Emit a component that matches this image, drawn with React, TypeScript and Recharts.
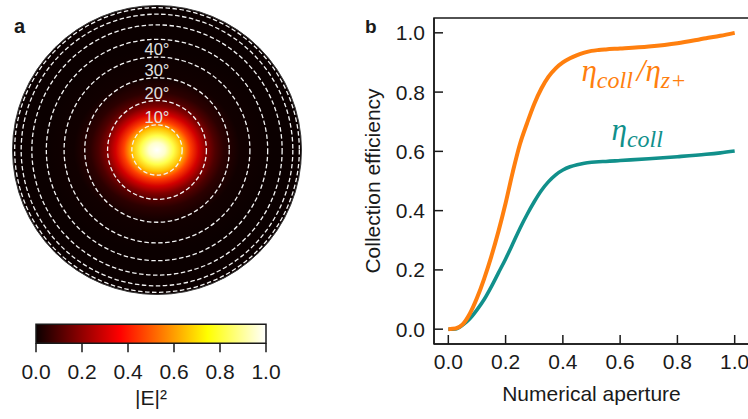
import React from 'react'
import {
  LineChart,
  Line,
  XAxis,
  YAxis,
  ReferenceArea,
  ReferenceDot,
  ScatterChart,
  Scatter,
  BarChart,
  Bar,
} from 'recharts'

// panel b: collection efficiency vs numerical aperture
const apertures = [
  0, 0.025, 0.05, 0.075, 0.1, 0.125, 0.15, 0.175, 0.2, 0.225, 0.25, 0.275, 0.3, 0.325, 0.35, 0.375,
  0.4, 0.425, 0.45, 0.475, 0.5, 0.525, 0.55, 0.6, 0.7, 0.8, 0.9, 0.95, 1.0,
]
const ratioEff = [
  0, 0.002, 0.016, 0.052, 0.105, 0.17, 0.245, 0.33, 0.425, 0.53, 0.624, 0.695, 0.76, 0.812, 0.852, 0.88,
  0.9, 0.914, 0.925, 0.933, 0.939, 0.942, 0.944, 0.947, 0.954, 0.965, 0.982, 0.99, 1.0,
]
const collEff = [
  0, 0.001, 0.014, 0.035, 0.065, 0.1, 0.143, 0.19, 0.237, 0.288, 0.34, 0.387, 0.43, 0.468, 0.498, 0.521,
  0.537, 0.548, 0.555, 0.56, 0.563, 0.565, 0.566, 0.569, 0.575, 0.582, 0.59, 0.595, 0.601,
]
const effTicks = [0, 0.2, 0.4, 0.6, 0.8, 1.0]

// panel a: angle rings (NA = sin of angle) and the spot profile
const ringAngles = [10, 20, 30, 40, 50, 60, 70, 80]
const ringNA = [0.174, 0.342, 0.5, 0.643, 0.766, 0.866, 0.94, 0.985]
const labelledRings = 4
const spotRadius = [0, 0.05, 0.1, 0.15, 0.2, 0.25, 0.3, 0.35, 0.4, 0.5, 0.7]
const spotIntensity = [1, 0.95, 0.82, 0.65, 0.46, 0.3, 0.18, 0.1, 0.05, 0.01, 0]
const colorbarTicks = [0, 0.2, 0.4, 0.6, 0.8, 1.0]
const colorbarStops = [0, 0.1, 0.2, 0.3, 0.365, 0.45, 0.55, 0.65, 0.746, 0.85, 0.95, 1]

const ORANGE = '#ff7f0e'
const TEAL = '#11908b'
const INK = '#1a1a1a'
const SANS = '"Liberation Sans", Arial, sans-serif'
const SERIF = '"Liberation Serif", "Times New Roman", serif'
const DISK_R = 144.5

// matplotlib "hot"
function hot(v: number) {
  const r = v < 0.365 ? 0.0416 + (0.9584 * v) / 0.365 : 1
  const g = v < 0.365 ? 0 : v < 0.746 ? (v - 0.365) / 0.381 : 1
  const b = v < 0.746 ? 0 : (v - 0.746) / 0.254
  const c = (x: number) => Math.round(Math.min(1, Math.max(0, x)) * 255)
  return `rgb(${c(r)},${c(g)},${c(b)})`
}

const effData = apertures.map((na, i) => ({ na, ratio: ratioEff[i], coll: collEff[i] }))
const diskData = [{ x: 0, y: 0 }]
const ringData = ringNA.map((na, i) => ({ x: 0, y: 0, na, angle: ringAngles[i] }))
const colorbarData = [{ name: 'E', v: 1 }]

function MathLabel({ x, y, color, sub1, sub2 }: { x: number; y: number; color: string; sub1: string; sub2?: string }) {
  return (
    <text x={x} y={y} fill={color} fontFamily={SERIF} fontStyle="italic">
      <tspan fontSize={31}>η</tspan>
      <tspan fontSize={24} dy={7}>{sub1}</tspan>
      {sub2 && (
        <>
          <tspan fontSize={31} dy={-7} dx={4}>/η</tspan>
          <tspan fontSize={24} dy={7}>{sub2}</tspan>
        </>
      )}
    </text>
  )
}

function DiskPanel() {
  return (
    <ScatterChart width={320} height={300} margin={{ top: 5.5, left: 12.5, right: 18.5, bottom: 5.5 }}>
      <defs>
        <radialGradient
          id="spotGlow"
          cx="0.5"
          cy="0.5"
          r="0.5"
          gradientTransform="translate(0.5 0.5) scale(1.15 1) translate(-0.5 -0.5)"
        >
          {spotRadius.map((r, i) => (
            <stop key={r} offset={r} stopColor={hot(spotIntensity[i])} />
          ))}
        </radialGradient>
      </defs>
      <XAxis dataKey="x" type="number" domain={[-1, 1]} hide />
      <YAxis dataKey="y" type="number" domain={[-1, 1]} hide />
      <Scatter
        data={diskData}
        isAnimationActive={false}
        shape={(p: any) => (
          <circle cx={p.cx} cy={p.cy} r={DISK_R} fill="url(#spotGlow)" stroke="#3a3a3a" strokeWidth={1} />
        )}
      />
      <Scatter
        data={ringData}
        isAnimationActive={false}
        shape={(p: any) => (
          <circle
            cx={p.cx}
            cy={p.cy}
            r={p.payload.na * DISK_R}
            fill="none"
            stroke="#f4f4f4"
            strokeWidth={1.3}
            strokeDasharray="4.5 2.5"
          />
        )}
      />
      {ringData.slice(0, labelledRings).map((d) => (
        <ReferenceDot
          key={d.angle}
          x={0}
          y={d.na}
          r={0.01}
          fill="none"
          stroke="none"
          label={{ value: `${d.angle}°`, position: 'top', offset: 2, fill: '#e0e0e0', fontSize: 16.5, fontFamily: SANS }}
        />
      ))}
    </ScatterChart>
  )
}

function ColorbarPanel() {
  return (
    <BarChart
      width={320}
      height={119}
      layout="vertical"
      data={colorbarData}
      barCategoryGap={0}
      margin={{ top: 24.3, left: 36, right: 54, bottom: 0 }}
    >
      <defs>
        <linearGradient id="hotBar" x1="0" y1="0" x2="1" y2="0">
          {colorbarStops.map((v) => (
            <stop key={v} offset={v} stopColor={hot(v)} />
          ))}
        </linearGradient>
      </defs>
      <XAxis
        type="number"
        domain={[0, 1]}
        ticks={colorbarTicks}
        tickFormatter={(v: number) => v.toFixed(1)}
        height={75.7}
        axisLine={false}
        tickSize={9}
        tickMargin={12}
        tickLine={{ stroke: INK, strokeWidth: 1.5 }}
        tick={{ fill: INK, fontSize: 21, fontFamily: SANS }}
        label={{ value: '|E|²', position: 'insideBottom', offset: 14.5, fill: INK, fontSize: 21, fontFamily: SANS }}
      />
      <YAxis type="category" dataKey="name" hide />
      <Bar dataKey="v" fill="url(#hotBar)" stroke={INK} strokeWidth={1.5} isAnimationActive={false} />
    </BarChart>
  )
}

function EfficiencyPanel() {
  return (
    <LineChart width={400} height={419} data={effData} margin={{ top: 18, left: 0, right: 11, bottom: 0 }}>
      <XAxis
        dataKey="na"
        type="number"
        domain={[-0.05, 1.05]}
        ticks={effTicks}
        tickFormatter={(v: number) => v.toFixed(1)}
        height={75}
        tickSize={-9}
        tickMargin={19}
        axisLine={{ stroke: INK, strokeWidth: 1.5 }}
        tickLine={{ stroke: INK, strokeWidth: 1.5 }}
        tick={{ fill: INK, fontSize: 21, fontFamily: SANS }}
        label={{ value: 'Numerical aperture', position: 'insideBottom', offset: 18.5, fill: INK, fontSize: 21, fontFamily: SANS }}
      />
      <YAxis
        type="number"
        domain={[-0.05, 1.05]}
        ticks={effTicks}
        tickFormatter={(v: number) => v.toFixed(1)}
        width={74}
        tickSize={-9}
        tickMargin={18}
        axisLine={{ stroke: INK, strokeWidth: 1.5 }}
        tickLine={{ stroke: INK, strokeWidth: 1.5 }}
        tick={{ fill: INK, fontSize: 21, fontFamily: SANS }}
        label={{
          value: 'Collection efficiency',
          angle: -90,
          position: 'insideLeft',
          offset: 13,
          fill: INK,
          fontSize: 21,
          fontFamily: SANS,
          style: { textAnchor: 'middle' },
        }}
      />
      <ReferenceArea x1={-0.05} x2={1.05} y1={-0.05} y2={1.05} fill="none" fillOpacity={0} stroke={INK} strokeWidth={1.5} />
      <Line type="monotone" dataKey="coll" stroke={TEAL} strokeWidth={3.6} dot={false} isAnimationActive={false} />
      <Line type="monotone" dataKey="ratio" stroke={ORANGE} strokeWidth={4} dot={false} isAnimationActive={false} />
      <ReferenceDot
        x={0.465}
        y={0.836}
        r={0}
        shape={(p: any) => <MathLabel x={p.cx} y={p.cy} color={ORANGE} sub1="coll" sub2="z+" />}
      />
      <ReferenceDot
        x={0.57}
        y={0.64}
        r={0}
        shape={(p: any) => <MathLabel x={p.cx} y={p.cy} color={TEAL} sub1="coll" />}
      />
    </LineChart>
  )
}

export default function App() {
  return (
    <div
      style={{
        position: 'absolute',
        left: 0,
        top: 0,
        width: 748,
        height: 419,
        overflow: 'hidden',
        background: '#fff',
        fontFamily: SANS,
      }}
    >
      <div style={{ position: 'absolute', left: 0, top: 0 }}>
        <DiskPanel />
      </div>
      <div style={{ position: 'absolute', left: 0, top: 300 }}>
        <ColorbarPanel />
      </div>
      <div style={{ position: 'absolute', left: 360, top: 0 }}>
        <EfficiencyPanel />
      </div>
      <span style={{ position: 'absolute', left: 14, top: 16, fontSize: 20, fontWeight: 700, lineHeight: 1, color: INK }}>a</span>
      <span style={{ position: 'absolute', left: 365, top: 17, fontSize: 19, fontWeight: 700, lineHeight: 1, color: INK }}>b</span>
    </div>
  )
}
